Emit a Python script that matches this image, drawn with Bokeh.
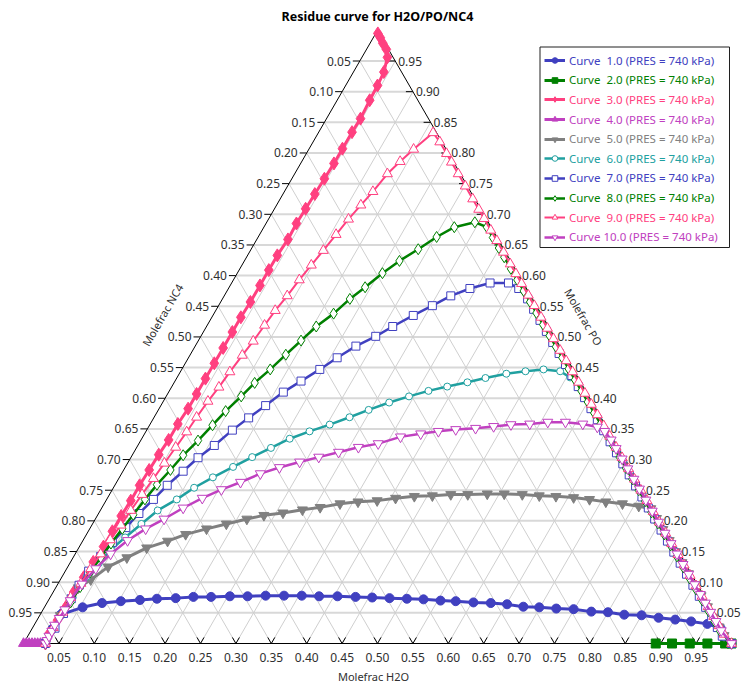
import numpy as np
from bokeh.plotting import figure
from bokeh.models import Legend, LegendItem, Range1d, BoxAnnotation
from bokeh.embed import file_html
from bokeh.resources import INLINE
from bokeh.core.properties import value

# ---------------- data ----------------
title_text = "Residue curve for H2O/PO/NC4"
title_h2o = "Molefrac H2O"
title_po = "Molefrac PO"
title_nc4 = "Molefrac NC4"
tick_values = [0.05, 0.10, 0.15, 0.20, 0.25, 0.30, 0.35, 0.40, 0.45, 0.50,
               0.55, 0.60, 0.65, 0.70, 0.75, 0.80, 0.85, 0.90, 0.95]
curve_ids = [1.0, 2.0, 3.0, 4.0, 5.0, 6.0, 7.0, 8.0, 9.0, 10.0]
pressure_kpa = 740

c1_h2o = [0.031, 0.029, 0.029, 0.054, 0.078, 0.103, 0.129, 0.152, 0.178, 0.202, 0.227, 0.253, 0.278, 0.303,
          0.329, 0.354, 0.379, 0.405, 0.431, 0.455, 0.480, 0.505, 0.529, 0.554, 0.576, 0.602, 0.627, 0.651,
          0.676, 0.699, 0.724, 0.749, 0.776, 0.800, 0.825, 0.850, 0.876, 0.901, 0.925, 0.950, 0.972, 1.0]
c1_po = [0.0, 0.024, 0.047, 0.059, 0.066, 0.069, 0.071, 0.073, 0.074, 0.076, 0.076, 0.077, 0.077, 0.078,
         0.078, 0.078, 0.077, 0.077, 0.076, 0.075, 0.074, 0.073, 0.072, 0.070, 0.069, 0.067, 0.066, 0.064,
         0.060, 0.059, 0.057, 0.056, 0.052, 0.051, 0.047, 0.046, 0.042, 0.039, 0.036, 0.032, 0.025, 0.0]

c2_h2o = [0.893, 0.916, 0.941, 0.966, 0.991, 1.0]
c2_po = [0.0, 0.0, 0.0, 0.0, 0.0, 0.0]

c3_h2o = [0.003, 0.010, 0.018, 0.028, 0.036, 0.043, 0.045, 0.046, 0.048, 0.047, 0.047, 0.047, 0.046, 0.045,
          0.044, 0.043, 0.044, 0.042, 0.042, 0.042, 0.042, 0.041, 0.041, 0.041, 0.041, 0.041, 0.041, 0.041,
          0.039, 0.039, 0.037, 0.036, 0.035, 0.035, 0.034, 0.034, 0.034, 0.032, 0.031, 0.029, 0.030, 0.029,
          0.028, 0.031]
c3_po = [0.995, 0.988, 0.979, 0.969, 0.956, 0.932, 0.910, 0.886, 0.856, 0.834, 0.807, 0.783, 0.758, 0.733,
         0.709, 0.685, 0.659, 0.633, 0.609, 0.584, 0.557, 0.532, 0.508, 0.482, 0.457, 0.432, 0.407, 0.383,
         0.358, 0.332, 0.308, 0.283, 0.258, 0.233, 0.208, 0.183, 0.158, 0.133, 0.108, 0.084, 0.059, 0.038,
         0.016, 0.0]

c4_h2o = [0.0, 0.004, 0.008, 0.012, 0.016, 0.020, 0.024, 0.028, 0.031]
c4_po = [0.0, 0.0, 0.0, 0.0, 0.0, 0.0, 0.0, 0.0, 0.0]

c5_h2o = [0.031, 0.029, 0.032, 0.043, 0.057, 0.076, 0.096, 0.120, 0.140, 0.165, 0.189, 0.214, 0.235, 0.260,
          0.285, 0.308, 0.333, 0.357, 0.383, 0.407, 0.432, 0.457, 0.482, 0.506, 0.533, 0.557, 0.583, 0.608,
          0.632, 0.658, 0.682, 0.707, 0.732, 0.757, 0.776, 0.792, 0.810, 0.828, 0.846, 0.864, 0.882,
          0.900, 0.918, 0.936, 0.953, 0.969, 0.983, 1.0]
c5_po = [0.0, 0.046, 0.091, 0.104, 0.125, 0.140, 0.156, 0.167, 0.178, 0.187, 0.195, 0.203, 0.209, 0.213,
         0.218, 0.222, 0.228, 0.231, 0.233, 0.237, 0.240, 0.241, 0.243, 0.243, 0.244, 0.244, 0.243, 0.241,
         0.240, 0.238, 0.235, 0.231, 0.228, 0.224, 0.220, 0.204, 0.186, 0.168, 0.150, 0.132, 0.114,
         0.096, 0.078, 0.060, 0.043, 0.027, 0.013, 0.0]

c6_h2o = [0.031, 0.032, 0.032, 0.032, 0.035, 0.041, 0.047, 0.057, 0.069, 0.081, 0.099, 0.114, 0.132, 0.152,
          0.171, 0.190, 0.209, 0.231, 0.254, 0.276, 0.297, 0.320, 0.343, 0.366, 0.389, 0.414, 0.436, 0.462,
          0.487, 0.511, 0.536, 0.555, 0.576, 0.594, 0.612, 0.630, 0.648, 0.666, 0.684, 0.702, 0.720, 0.738,
          0.756, 0.774, 0.792, 0.810, 0.828, 0.846, 0.864, 0.882, 0.900, 0.918, 0.936, 0.953, 0.969, 0.983, 1.0]
c6_po = [0.0, 0.025, 0.049, 0.075, 0.109, 0.131, 0.153, 0.173, 0.195, 0.217, 0.235, 0.254, 0.271, 0.288,
         0.304, 0.319, 0.334, 0.346, 0.357, 0.369, 0.381, 0.393, 0.403, 0.412, 0.419, 0.426, 0.433, 0.440,
         0.444, 0.447, 0.444, 0.434, 0.418, 0.400, 0.382, 0.364, 0.346, 0.328, 0.310, 0.292, 0.274, 0.256,
         0.238, 0.220, 0.202, 0.184, 0.166, 0.148, 0.130, 0.112, 0.094, 0.076, 0.058, 0.041, 0.025, 0.011, 0.0]

c7_h2o = [0.031, 0.032, 0.032, 0.031, 0.031, 0.033, 0.038, 0.043, 0.050, 0.057, 0.066, 0.074, 0.085, 0.095,
          0.108, 0.121, 0.134, 0.148, 0.162, 0.178, 0.195, 0.210, 0.227, 0.247, 0.263, 0.283, 0.302, 0.320,
          0.341, 0.365, 0.391, 0.410, 0.431, 0.448, 0.466, 0.484, 0.502, 0.520, 0.538, 0.556, 0.574, 0.592,
          0.610, 0.628, 0.646, 0.664, 0.682, 0.700, 0.718, 0.736, 0.754, 0.772, 0.790, 0.808, 0.826, 0.844,
          0.862, 0.880, 0.898, 0.916, 0.934, 0.951, 0.967, 0.981, 1.0]
c7_po = [0.0, 0.025, 0.049, 0.073, 0.095, 0.118, 0.142, 0.165, 0.189, 0.212, 0.235, 0.258, 0.281, 0.303,
         0.323, 0.348, 0.368, 0.388, 0.410, 0.428, 0.447, 0.466, 0.485, 0.501, 0.517, 0.535, 0.551, 0.567,
         0.579, 0.588, 0.588, 0.579, 0.562, 0.545, 0.527, 0.509, 0.491, 0.473, 0.455, 0.437, 0.419, 0.401,
         0.383, 0.365, 0.347, 0.329, 0.311, 0.293, 0.275, 0.257, 0.239, 0.221, 0.203, 0.185, 0.167, 0.149,
         0.131, 0.113, 0.095, 0.077, 0.059, 0.042, 0.026, 0.012, 0.0]

c8_h2o = [0.031, 0.030, 0.030, 0.033, 0.034, 0.036, 0.039, 0.042, 0.046, 0.050, 0.054, 0.059, 0.066, 0.072,
          0.081, 0.089, 0.096, 0.106, 0.114, 0.125, 0.135, 0.145, 0.155, 0.169, 0.180, 0.192, 0.205, 0.219,
          0.236, 0.252, 0.269, 0.294, 0.315, 0.332, 0.349, 0.364, 0.383, 0.401, 0.419, 0.437, 0.455, 0.474,
          0.492, 0.510, 0.528, 0.546, 0.564, 0.582, 0.600, 0.618, 0.636, 0.654, 0.672, 0.690, 0.708, 0.726,
          0.744, 0.762, 0.780, 0.798, 0.816, 0.834, 0.852, 0.870, 0.888, 0.906, 0.924, 0.941, 0.958, 0.974, 1.0]
c8_po = [0.0, 0.024, 0.047, 0.067, 0.092, 0.116, 0.140, 0.163, 0.187, 0.210, 0.235, 0.259, 0.283, 0.307,
         0.331, 0.356, 0.379, 0.403, 0.425, 0.447, 0.471, 0.494, 0.517, 0.538, 0.562, 0.581, 0.604, 0.624,
         0.643, 0.663, 0.679, 0.687, 0.679, 0.662, 0.645, 0.630, 0.611, 0.593, 0.575, 0.557, 0.539, 0.520,
         0.502, 0.484, 0.466, 0.448, 0.430, 0.412, 0.394, 0.376, 0.358, 0.340, 0.322, 0.304, 0.286, 0.268,
         0.250, 0.232, 0.214, 0.196, 0.178, 0.160, 0.142, 0.124, 0.106, 0.088, 0.070, 0.053, 0.036, 0.020, 0.0]

c9_h2o = [0.031, 0.029, 0.030, 0.029, 0.032, 0.034, 0.036, 0.038, 0.041, 0.043, 0.046, 0.049, 0.052, 0.055,
          0.058, 0.060, 0.063, 0.067, 0.070, 0.074, 0.078, 0.081, 0.084, 0.089, 0.093, 0.098, 0.103, 0.108,
          0.113, 0.119, 0.125, 0.131, 0.139, 0.148, 0.162, 0.179, 0.198, 0.212, 0.231, 0.251, 0.272, 0.289,
          0.304, 0.323, 0.340, 0.359, 0.378, 0.394, 0.410, 0.429, 0.446, 0.465, 0.483, 0.500, 0.519, 0.536,
          0.554, 0.571, 0.589, 0.607, 0.624, 0.642, 0.659, 0.677, 0.694, 0.712, 0.729, 0.747, 0.764, 0.782,
          0.799, 0.817, 0.834, 0.852, 0.869, 0.886, 0.903, 0.920, 0.937, 0.953, 0.968, 0.982, 1.0]
c9_po = [0.0, 0.026, 0.051, 0.075, 0.098, 0.122, 0.146, 0.169, 0.193, 0.217, 0.243, 0.269, 0.294, 0.320,
         0.345, 0.369, 0.395, 0.418, 0.443, 0.470, 0.493, 0.519, 0.543, 0.567, 0.593, 0.617, 0.641, 0.667,
         0.692, 0.715, 0.737, 0.766, 0.786, 0.806, 0.833, 0.818, 0.799, 0.785, 0.766, 0.746, 0.725, 0.708,
         0.693, 0.674, 0.657, 0.638, 0.619, 0.603, 0.587, 0.568, 0.551, 0.532, 0.514, 0.497, 0.478, 0.461,
         0.443, 0.426, 0.408, 0.390, 0.373, 0.355, 0.338, 0.320, 0.303, 0.285, 0.268, 0.250, 0.233, 0.215,
         0.198, 0.180, 0.163, 0.145, 0.128, 0.111, 0.094, 0.077, 0.060, 0.044, 0.029, 0.015, 0.0]

c10_h2o = [0.031, 0.031, 0.030, 0.030, 0.029, 0.030, 0.031, 0.031, 0.034, 0.041, 0.050, 0.063, 0.079, 0.097,
           0.115, 0.134, 0.154, 0.175, 0.196, 0.218, 0.242, 0.265, 0.289, 0.313, 0.338, 0.364, 0.390, 0.413,
           0.436, 0.463, 0.487, 0.510, 0.536, 0.560, 0.585, 0.611, 0.634, 0.648, 0.664, 0.678, 0.695, 0.711,
           0.728, 0.744, 0.762, 0.780, 0.798, 0.816, 0.833, 0.850, 0.867, 0.883, 0.900, 0.916, 0.930, 0.945,
           0.960, 0.975, 1.0]
c10_po = [0.0, 0.005, 0.012, 0.020, 0.030, 0.041, 0.055, 0.070, 0.097, 0.122, 0.146, 0.168, 0.187, 0.203,
          0.221, 0.237, 0.251, 0.263, 0.277, 0.287, 0.296, 0.304, 0.312, 0.320, 0.326, 0.337, 0.342, 0.346,
          0.349, 0.351, 0.354, 0.357, 0.358, 0.361, 0.361, 0.358, 0.353, 0.346, 0.332, 0.318, 0.301, 0.285,
          0.268, 0.252, 0.234, 0.216, 0.198, 0.180, 0.163, 0.146, 0.129, 0.113, 0.096, 0.080, 0.066, 0.051,
          0.036, 0.021, 0.0]

curves_h2o = [c1_h2o, c2_h2o, c3_h2o, c4_h2o, c5_h2o, c6_h2o, c7_h2o, c8_h2o, c9_h2o, c10_h2o]
curves_po = [c1_po, c2_po, c3_po, c4_po, c5_po, c6_po, c7_po, c8_po, c9_po, c10_po]

# ---------------- styles ----------------
BLUE, GREEN, PINK, MAGENTA, GRAY, TEAL = "#4040C0", "#008000", "#FF4080", "#C040C0", "#808080", "#20A0A0"
styles = [
    (BLUE, "circle", 9, True, 3),
    (GREEN, "square", 9, True, 3),
    (PINK, "diamond", 13, True, 3),
    (MAGENTA, "triangle", 10, True, 3),
    (GRAY, "inverted_triangle", 10, True, 3),
    (TEAL, "circle", 7, False, 2.5),
    (BLUE, "square", 8, False, 2.5),
    (GREEN, "diamond", 11, False, 2.5),
    (PINK, "triangle", 10, False, 2),
    (MAGENTA, "inverted_triangle", 10, False, 2.5),
]
FONT_NAME = "Noto Sans"
FONT = value(FONT_NAME)
TXT = "#303030"

W, H = 741, 687
SIDE, OX, OY = 708.0, 23.0, 44.0
SQ3 = np.sqrt(3) / 2


def tern(h2o, po):
    h = np.asarray(h2o, dtype=float)
    q = np.asarray(po, dtype=float)
    return h + q / 2, q * SQ3


def page2data(X, Y):
    return (X - OX) / SIDE, ((H - Y) - OY) / SIDE


p = figure(width=W, height=H, output_backend="svg", toolbar_location=None,
           x_range=Range1d(-OX / SIDE, (W - OX) / SIDE),
           y_range=Range1d(-OY / SIDE, (H - OY) / SIDE),
           x_axis_type=None, y_axis_type=None, min_border=0, title=None,
           outline_line_color=None, background_fill_color="white", border_fill_color="white")

gv = np.array(tick_values)
zero = np.zeros_like(gv)

# grid: constant PO (horizontal)
ax, ay = tern(zero, gv)
bx, by = tern(1 - gv, gv)
p.multi_line(xs=[[a, b] for a, b in zip(ax, bx)], ys=[[a, b] for a, b in zip(ay, by)],
             line_color="#d8d8d8", line_width=2)
# grid: constant H2O
ax, ay = tern(gv, zero)
bx, by = tern(gv, 1 - gv)
p.multi_line(xs=[[a, b] for a, b in zip(ax, bx)], ys=[[a, b] for a, b in zip(ay, by)],
             line_color="#cfcfcf", line_width=1)
# grid: constant NC4
ax, ay = tern(1 - gv, zero)
bx, by = tern(zero, 1 - gv)
p.multi_line(xs=[[a, b] for a, b in zip(ax, bx)], ys=[[a, b] for a, b in zip(ay, by)],
             line_color="#cfcfcf", line_width=1)

# triangle
tx, ty = tern([0, 1, 0, 0], [0, 0, 1, 0])
p.line(tx, ty, line_color="black", line_width=1)

# tick marks
L = 7 / SIDE
bx0, by0 = tern(gv, zero)
xs, ys = [], []
for a, b in zip(bx0, by0):
    xs += [[a, a - L * 0.5], [a, a + L * 0.5]]
    ys += [[b, b + L * SQ3], [b, b + L * SQ3]]
lx0, ly0 = tern(zero, 1 - gv)
for a, b in zip(lx0, ly0):
    xs.append([a, a - L]); ys.append([b, b])
rx0, ry0 = tern(1 - gv, gv)
for a, b in zip(rx0, ry0):
    xs.append([a, a - L]); ys.append([b, b])
p.multi_line(xs=xs, ys=ys, line_color="black", line_width=1)

labels = [f"{v:.2f}" for v in tick_values]
tick_kw = dict(text_font=FONT, text_font_size="12px", text_color=TXT, text_baseline="middle")
p.text(x=bx0, y=by0, text=labels, text_align="center", y_offset=14, **tick_kw)
p.text(x=lx0, y=ly0, text=labels, text_align="right", x_offset=-9, **tick_kw)
p.text(x=rx0, y=ry0, text=labels, text_align="left", x_offset=3, **tick_kw)

# axis titles
ttl_kw = dict(text_font=FONT, text_font_size="11px", text_color=TXT, text_align="center",
              text_baseline="middle")
mx, my = tern([0.5], [0.0])
p.text(x=mx, y=my, text=[title_h2o], x_offset=-4, y_offset=33, **ttl_kw)
mx, my = tern([0.0], [0.5])
p.text(x=mx, y=my, text=[title_nc4], x_offset=-38, y_offset=-22, angle=np.pi / 3, **ttl_kw)
mx, my = tern([0.5], [0.5])
p.text(x=mx, y=my, text=[title_po], x_offset=29, y_offset=-20, angle=-np.pi / 3, **ttl_kw)

# title
mx, my = tern([0.0], [1.0])
p.text(x=mx, y=my, text=[title_text], y_offset=-14, text_font=FONT, text_font_size="12.5px",
       text_font_style="bold", text_color="black", text_align="center", text_baseline="middle")

# curves
rend = []
for hh, pp, (col, mk, sz, filled, lw) in zip(curves_h2o, curves_po, styles):
    x, y = tern(hh, pp)
    rl = p.line(x, y, line_color=col, line_width=lw)
    rs = p.scatter(x, y, marker=mk, size=sz, line_color=col, line_width=1,
                   fill_color=col if filled else "white")
    rend.append((rl, rs))

# legend box
l0, t0 = page2data(539.5, 46.5)
r0, b0 = page2data(729, 247)
p.add_layout(BoxAnnotation(left=l0, right=r0, top=t0, bottom=b0, fill_alpha=0,
                           line_color="#202020", line_width=1, line_alpha=1))

for i, (cid, (rl, rs), st) in enumerate(zip(curve_ids, rend, styles)):
    num = f"{cid:4.1f}".replace(" ", "\u00a0")
    lab = f"Curve {num} (PRES = {pressure_kpa} kPa)"
    yc = 60.7 + 19.62 * i
    leg = Legend(items=[LegendItem(label=lab, renderers=[rl, rs])],
                 location=(544, H - yc - 7), orientation="vertical",
                 padding=0, margin=0, spacing=0, glyph_width=21, glyph_height=14,
                 label_height=14, label_standoff=4, label_text_font=FONT_NAME,
                 label_text_font_size="11.5px", label_text_color=st[0],
                 border_line_color=None, background_fill_alpha=0)
    p.add_layout(leg)

open("out.html", "w").write(file_html(p, INLINE))
